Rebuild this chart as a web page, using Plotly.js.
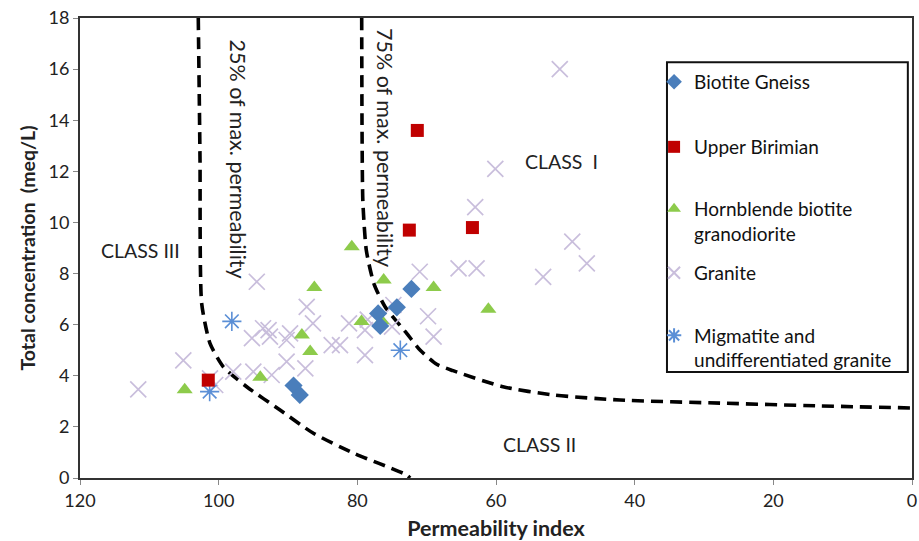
<!DOCTYPE html>
<html>
<head>
<meta charset="utf-8">
<script src="https://cdn.plot.ly/plotly-3.0.1.min.js"></script>
<style>html,body{margin:0;padding:0;background:#fff;}#chart{width:919px;height:541px;}</style>
</head>
<body>
<div id="chart"></div>
<script>
// ---- Data ----
var seriesNames = ["Biotite Gneiss", "Upper Birimian", "Hornblende biotite<br>granodiorite", "Granite", "Migmatite and<br>undifferentiated granite"];

var gneissX = [72.2, 74.3, 77.0, 76.7, 89.2, 88.3];
var gneissY = [7.4, 6.68, 6.44, 5.95, 3.62, 3.25];

var birimianX = [101.5, 71.35, 72.5, 63.4];
var birimianY = [3.83, 13.6, 9.7, 9.8];

var hornblendeX = [104.9, 94.0, 86.2, 88.0, 86.8, 80.8, 76.2, 69.0, 79.4, 76.5, 61.1];
var hornblendeY = [3.45, 3.94, 7.45, 5.6, 4.95, 9.05, 7.75, 7.45, 6.12, 6.15, 6.6];

var graniteX = [111.6, 105.1, 101.25, 100.5, 97.9, 95.0, 92.35, 94.5, 95.2, 93.6, 92.8, 92.6, 90.2, 89.7, 90.2, 87.5,
                87.3, 86.4, 81.2, 78.5, 83.7, 82.5, 78.9, 78.9, 75.0, 74.8, 71.0, 69.8, 69.0, 65.4, 62.8, 63.0,
                60.1, 53.2, 49.0, 46.9, 50.8];
var graniteY = [3.47, 4.6, 3.9, 3.64, 4.16, 4.16, 4.03, 7.68, 5.47, 5.86, 5.79, 5.53, 5.4, 5.66, 4.55, 4.29,
                6.7, 6.05, 6.05, 6.2, 5.2, 5.2, 4.81, 5.79, 5.92, 6.77, 8.07, 6.33, 5.53, 8.2, 8.2, 10.6,
                12.1, 7.87, 9.25, 8.4, 16.0];

var migmatiteX = [98.1, 101.3, 73.8];
var migmatiteY = [6.13, 3.38, 5.0];

// boundary curves
var curve25X = [102.94, 102.8, 102.69, 102.45, 101.25, 99.33, 95.96, 91.15, 86.39, 80.62, 72.88, 72.4];
var curve25Y = [18.0, 15.0, 12.44, 6.83, 5.27, 4.35, 3.57, 2.66, 1.76, 0.98, 0.12, 0.0];

var curve75X = [79.37, 79.32, 79.2, 78.7, 77.6, 76.0, 72.88, 70.96, 68.55, 66.2, 58.99, 51.78, 42.11, 27.69, 13.26, 0.0];
var curve75Y = [18.0, 13.6, 10.8, 8.9, 7.6, 6.7, 5.66, 5.01, 4.45, 4.2, 3.57, 3.25, 3.05, 2.93, 2.82, 2.74];

var xTicks = [120, 100, 80, 60, 40, 20, 0];
var yTicks = [0, 2, 4, 6, 8, 10, 12, 14, 16, 18];

// ---- Chart ----
var FONT = "Lato, 'Open Sans', sans-serif";
var lineStyle = {color: '#000', width: 3.6, dash: '12px,7px'};

var traces = [
  {x: curve25X, y: curve25Y, mode: 'lines', line: Object.assign({shape: 'spline', smoothing: 0.6}, lineStyle), showlegend: false, hoverinfo: 'skip'},
  {x: curve75X, y: curve75Y, mode: 'lines', line: Object.assign({shape: 'spline', smoothing: 0.6}, lineStyle), showlegend: false, hoverinfo: 'skip'},
  {x: graniteX, y: graniteY, mode: 'markers', name: seriesNames[3], legend: 'legend4',
   marker: {symbol: 'x-thin-open', size: 16, color: '#C9BEDC', line: {width: 1.7, color: '#C9BEDC'}}},
  {x: hornblendeX, y: hornblendeY, mode: 'markers', name: seriesNames[2], legend: 'legend3',
   marker: {symbol: 'triangle-up', size: 14, color: '#8DCB4B'}},
  {x: migmatiteX, y: migmatiteY, mode: 'markers', name: seriesNames[4], legend: 'legend5',
   marker: {symbol: 'asterisk-open', size: 16, color: '#5B8FD6', line: {width: 1.6, color: '#5B8FD6'}}},
  {x: gneissX, y: gneissY, mode: 'markers', name: seriesNames[0], legend: 'legend',
   marker: {symbol: 'diamond', size: 14, color: '#4A7EBB'}},
  {x: birimianX, y: birimianY, mode: 'markers', name: seriesNames[1], legend: 'legend2',
   marker: {symbol: 'square', size: 13, color: '#C00000'}}
];

function leg(y) {
  return {x: 0.69, y: y, xanchor: 'left', yanchor: 'middle', valign: 'top', bgcolor: 'rgba(0,0,0,0)',
          borderwidth: 0, font: {family: FONT, size: 19, color: '#111'}, itemwidth: 30, itemsizing: 'constant'};
}

var layout = {
  width: 919, height: 541,
  margin: {l: 80, r: 7, t: 18, b: 63, pad: 0},
  paper_bgcolor: '#fff', plot_bgcolor: '#fff',
  font: {family: FONT, color: '#222'},
  xaxis: {
    range: [120, 0], tickvals: xTicks, ticks: 'outside', ticklen: 5, tickcolor: '#888',
    showgrid: false, zeroline: false, showline: true, linecolor: '#333', linewidth: 2, mirror: true,
    tickfont: {family: FONT, size: 18, color: '#222'},
    title: {text: 'Permeability index', font: {family: FONT, size: 21.5, color: '#222', weight: 'bold'}, standoff: 12}
  },
  yaxis: {
    range: [0, 18], tickvals: yTicks, ticks: 'outside', ticklen: 5, tickcolor: '#888',
    showgrid: false, zeroline: false, showline: true, linecolor: '#333', linewidth: 2, mirror: true,
    tickfont: {family: FONT, size: 18, color: '#222'},
    title: {text: 'Total concentration  (meq/L)', font: {family: FONT, size: 19.5, color: '#222', weight: 'bold'}, standoff: 8}
  },
  legend: leg(0.861),
  legend2: leg(0.7196),
  legend3: leg(0.5576),
  legend4: leg(0.4457),
  legend5: leg(0.2826),
  shapes: [
    {type: 'rect', xref: 'paper', yref: 'paper', x0: 0.7055, x1: 0.995, y0: 0.2304, y1: 0.904,
     line: {color: '#111', width: 2}, fillcolor: 'rgba(0,0,0,0)', layer: 'below'}
  ],
  annotations: [
    {x: 97.2, y: 12.5, text: '25% of max. permeability', textangle: 90, showarrow: false, font: {family: FONT, size: 21.5, color: '#222'}},
    {x: 76.0, y: 12.95, text: '75% of max. permeability', textangle: 90, showarrow: false, font: {family: FONT, size: 21.5, color: '#222'}},
    {x: 111.3, y: 8.9, text: 'CLASS III', showarrow: false, font: {family: FONT, size: 19.5, color: '#222'}},
    {x: 50.5, y: 12.4, text: 'CLASS\u00a0\u00a0I', showarrow: false, font: {family: FONT, size: 19.5, color: '#222'}},
    {x: 53.7, y: 1.3, text: 'CLASS II', showarrow: false, font: {family: FONT, size: 19.5, color: '#222'}}
  ]
};

Plotly.newPlot('chart', traces, layout, {displayModeBar: false, staticPlot: true});
</script>
</body>
</html>
